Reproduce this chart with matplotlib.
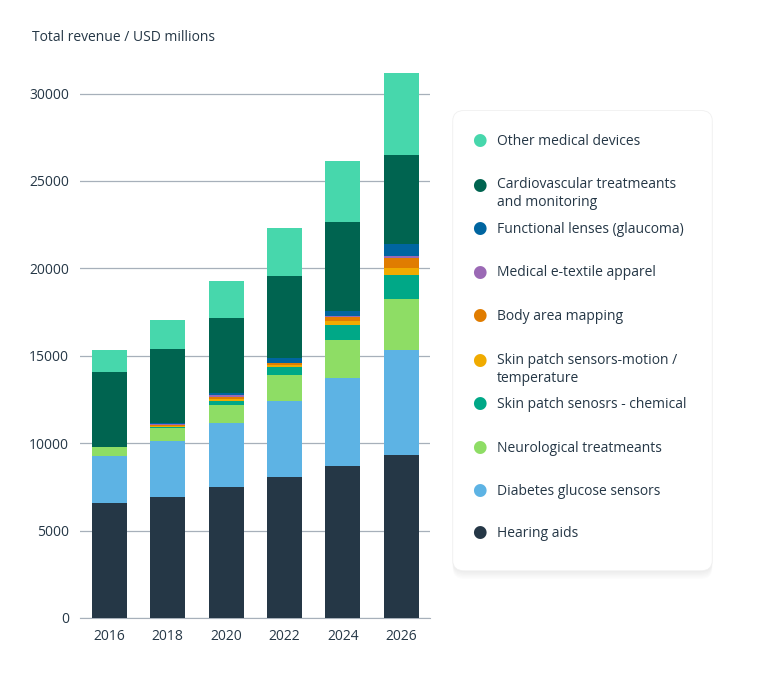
import matplotlib
matplotlib.use("Agg")
import matplotlib.pyplot as plt
from matplotlib.patches import FancyBboxPatch
import numpy as np

plt.rcParams['font.family'] = ['Open Sans', 'DejaVu Sans']

years = ["2016", "2018", "2020", "2022", "2024", "2026"]
series_names = ["Hearing aids", "Diabetes glucose sensors", "Neurological treatmeants",
                "Skin patch senosrs - chemical", "Skin patch sensors-motion /\ntemperature",
                "Body area mapping", "Medical e-textile apparel", "Functional lenses (glaucoma)",
                "Cardiovascular treatmeants\nand monitoring", "Other medical devices"]
hearing = [6600, 6900, 7470, 8090, 8710, 9330]
diabetes = [2690, 3230, 3710, 4340, 5020, 6010]
neuro = [510, 750, 1010, 1450, 2170, 2920]
chemical = [0, 60, 240, 450, 840, 1350]
motion = [0, 60, 120, 130, 230, 390]
body = [0, 60, 90, 110, 240, 620]
textile = [0, 60, 110, 30, 50, 110]
lens = [0, 60, 120, 290, 320, 640]
cardio = [4260, 4230, 4280, 4660, 5060, 5090]
other = [1280, 1610, 2120, 2750, 3480, 4700]
colors = ["#253746", "#5DB3E4", "#8EDD65", "#00A887", "#F0AB00",
          "#E07C00", "#9B69B5", "#0065A0", "#006450", "#47D7AC"]
data = [hearing, diabetes, neuro, chemical, motion, body, textile, lens, cardio, other]

fig = plt.figure(figsize=(7.70, 6.82), dpi=100)
ax = fig.add_axes([0.104, 0.094, 0.455, 0.82])
x = np.arange(len(years))
bottom = np.zeros(len(years))
for vals, c in zip(data, colors):
    ax.bar(x, vals, bottom=bottom, color=c, width=0.6, zorder=3)
    bottom += np.array(vals)
ax.set_ylim(0, 32000)
ax.set_xlim(-0.5, 5.5)
ax.set_yticks(range(0, 30001, 5000))
ax.set_xticks(x, years)
ax.grid(axis='y', color='#a7b0ba', lw=0.9, zorder=0)
for s in ax.spines.values():
    s.set_visible(False)
ax.spines['bottom'].set_visible(True)
ax.spines['bottom'].set_color('#a7b0ba')
ax.tick_params(length=0, labelsize=10, labelcolor='#253746', pad=8)
fig.text(0.042, 0.94, "Total revenue / USD millions", fontsize=10, color='#253746')

# legend panel
lx0, ly0, lw, lh = 0.588, 0.163, 0.337, 0.675
for i in range(6, 0, -1):
    fig.patches.append(FancyBboxPatch((lx0, ly0 - 0.002 * i), lw, lh, boxstyle="round,pad=0,rounding_size=0.015",
                                      transform=fig.transFigure, fc=(0, 0, 0, 0.012), ec='none'))
fig.patches.append(FancyBboxPatch((lx0, ly0), lw, lh, boxstyle="round,pad=0,rounding_size=0.015",
                                  transform=fig.transFigure, fc='white', ec='#f0f0f0', lw=0.6))
ys = [0.793, 0.728, 0.664, 0.600, 0.536, 0.470, 0.407, 0.343, 0.280, 0.218]
for name, c, y in zip(series_names[::-1], colors[::-1], ys):
    fig.text(0.622, y, "●", color=c, fontsize=12, va='center', ha='center')
    fig.text(0.645, y + (-0.012 if "\n" in name else 0), name, fontsize=10, color='#253746',
             va='center', linespacing=1.25)
fig.savefig("out.png", dpi=100)
